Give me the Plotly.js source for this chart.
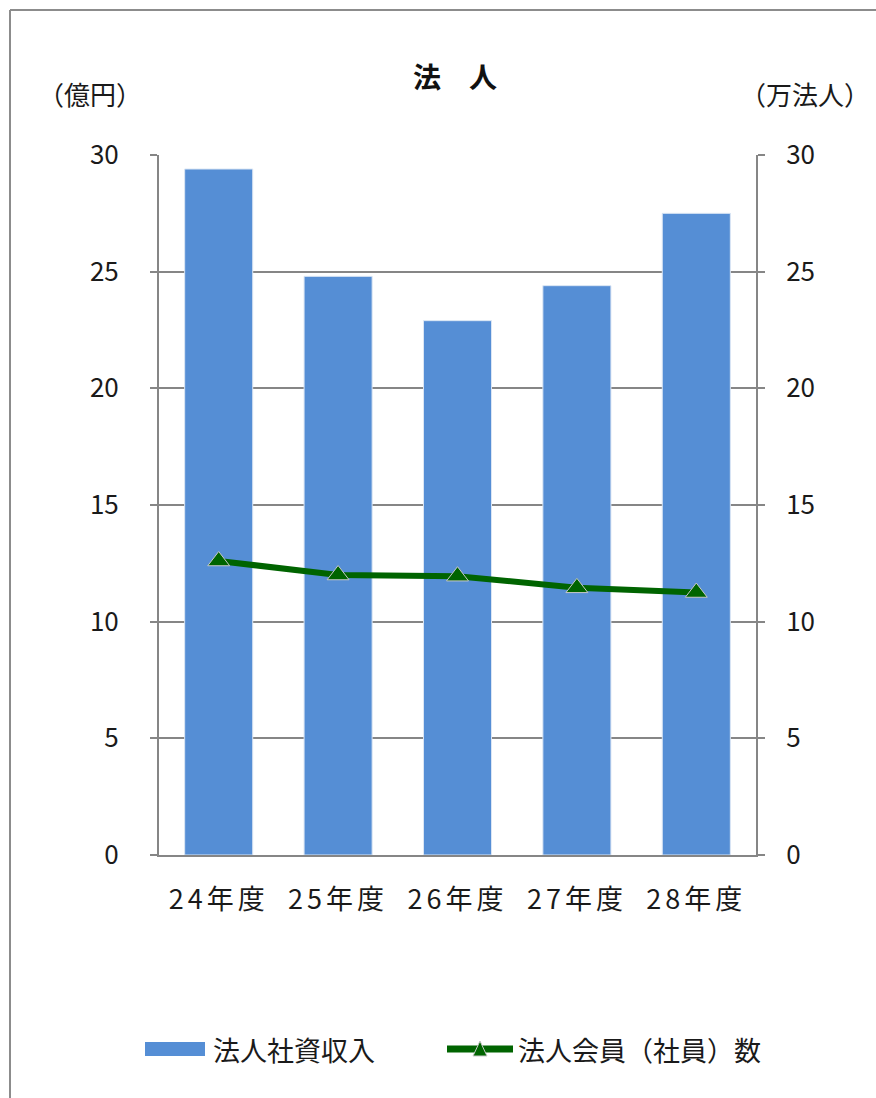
<!DOCTYPE html>
<html>
<head>
<meta charset="utf-8">
<script src="https://cdn.plot.ly/plotly-3.0.1.min.js"></script>
<style>
html,body{margin:0;padding:0;background:#fff;}
#chart{width:876px;height:1098px;}
#chart .xtick text{letter-spacing:4px;}
</style>
</head>
<body>
<div id="chart"></div>
<script>
// ---- data ----
const categories = ["24年度", "25年度", "26年度", "27年度", "28年度"];
const revenue = [29.4, 24.8, 22.9, 24.4, 27.5];          // 法人社資収入 (億円)
const members = [12.6, 12.0, 11.95, 11.45, 11.25];       // 法人会員(社員)数 (万法人)
const yTicks = [0, 5, 10, 15, 20, 25, 30];
const seriesNames = ["法人社資収入", "法人会員（社員）数"];
const titleText = "法　人";
const leftUnit = "（億円）";
const rightUnit = "（万法人）";

// ---- layout helpers (pixel -> paper) ----
const L = 159, R = 756, T = 155, B = 855;
const W = 876, H = 1098;
const px = x => (x - L) / (R - L);
const py = y => (B - y) / (B - T);

const FONT = "'Noto Sans CJK JP', 'Noto Sans', sans-serif";
const GRID = "#868686";
const BLUE = "#558ED5";
const GREEN = "#006400";
const TXT = "#1a1a1a";

const traces = [
  {
    type: "bar",
    x: categories,
    y: revenue,
    name: seriesNames[0],
    marker: {color: BLUE, line: {color: "#dbe6f4", width: 1}},
    yaxis: "y",
    showlegend: false
  },
  {
    type: "scatter",
    mode: "lines+markers",
    x: categories,
    y: members,
    name: seriesNames[1],
    line: {color: GREEN, width: 6},
    marker: {symbol: "triangle-up", size: 19, color: GREEN, line: {color: "#c8c8c8", width: 1}},
    yaxis: "y2",
    showlegend: false
  }
];

const layout = {
  width: W, height: H,
  margin: {l: L, r: W - R, t: T, b: H - B, pad: 0},
  paper_bgcolor: "#fff",
  plot_bgcolor: "#fff",
  bargap: 0.43,
  font: {family: FONT, size: 20, color: TXT},
  xaxis: {
    type: "category",
    tickfont: {family: FONT, size: 27, color: TXT},
    showgrid: false,
    showline: true, linecolor: GRID, linewidth: 2,
    ticks: "", ticklabelstandoff: 20,
    fixedrange: true
  },
  yaxis: {
    range: [0, 30],
    tickvals: yTicks,
    showgrid: true, gridcolor: GRID, gridwidth: 2,
    showline: true, linecolor: GRID, linewidth: 2,
    ticks: "outside", ticklen: 7, tickcolor: GRID, tickwidth: 2,
    ticklabelstandoff: 26,
    tickfont: {family: FONT, size: 26, color: TXT},
    zeroline: false,
    fixedrange: true
  },
  yaxis2: {
    range: [0, 30],
    tickvals: yTicks,
    overlaying: "y",
    side: "right",
    showgrid: false,
    showline: true, linecolor: GRID, linewidth: 2,
    ticks: "outside", ticklen: 7, tickcolor: GRID, tickwidth: 2,
    ticklabelstandoff: 16,
    tickfont: {family: FONT, size: 26, color: TXT},
    zeroline: false,
    fixedrange: true
  },
  shapes: [
    // outer frame (left and top edges)
    {type: "line", xref: "paper", yref: "paper", x0: px(10), x1: px(10), y0: py(10), y1: py(H + 5), line: {color: "#8c8c8c", width: 2}},
    {type: "line", xref: "paper", yref: "paper", x0: px(10), x1: px(W + 5), y0: py(10), y1: py(10), line: {color: "#8c8c8c", width: 2}},
    // legend: bar swatch
    {type: "rect", xref: "paper", yref: "paper", x0: px(145), x1: px(205), y0: py(1042), y1: py(1056), fillcolor: BLUE, line: {width: 0}},
    // legend: line swatch
    {type: "line", xref: "paper", yref: "paper", x0: px(447), x1: px(513), y0: py(1049), y1: py(1049), line: {color: GREEN, width: 7}},
    {type: "path", xref: "paper", yref: "paper",
     path: `M ${px(473)} ${py(1056)} L ${px(487)} ${py(1056)} L ${px(480)} ${py(1041)} Z`,
     fillcolor: GREEN, line: {color: "#c8c8c8", width: 1}}
  ],
  annotations: [
    {text: "<b>" + titleText + "</b>", xref: "paper", yref: "paper", x: px(455), y: py(76), showarrow: false,
     font: {family: FONT, size: 28, color: "#111"}, xanchor: "center", yanchor: "middle"},
    {text: leftUnit, xref: "paper", yref: "paper", x: px(90), y: py(94), showarrow: false,
     font: {family: FONT, size: 26, color: TXT}, xanchor: "center", yanchor: "middle"},
    {text: rightUnit, xref: "paper", yref: "paper", x: px(805), y: py(94), showarrow: false,
     font: {family: FONT, size: 26, color: TXT}, xanchor: "center", yanchor: "middle"},
    {text: seriesNames[0], xref: "paper", yref: "paper", x: px(211), y: py(1049), showarrow: false,
     font: {family: FONT, size: 27, color: TXT}, xanchor: "left", yanchor: "middle"},
    {text: seriesNames[1], xref: "paper", yref: "paper", x: px(516), y: py(1049), showarrow: false,
     font: {family: FONT, size: 27, color: TXT}, xanchor: "left", yanchor: "middle"}
  ]
};

Plotly.newPlot("chart", traces, layout, {displayModeBar: false, staticPlot: true});
</script>
</body>
</html>
